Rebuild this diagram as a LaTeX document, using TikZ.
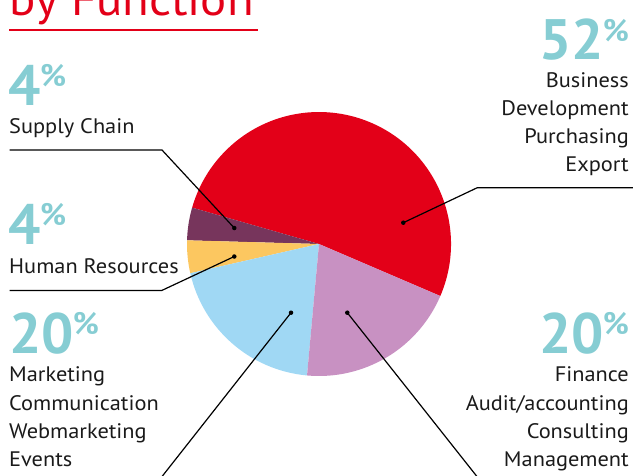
\documentclass[tikz,border=0pt]{standalone}
\usepackage{fontspec}
\setmainfont{PT Sans}
\newfontfamily\lblfont[FakeStretch=1.065]{PT Sans}
\newfontfamily\ttlfont[FakeStretch=1.06]{PT Sans}
\definecolor{cRed}{HTML}{E30018}
\definecolor{cPurple}{HTML}{77355C}
\definecolor{cYellow}{HTML}{FCC760}
\definecolor{cBlue}{HTML}{A0D8F4}
\definecolor{cPink}{HTML}{C891C2}
\definecolor{cTeal}{HTML}{86CDD3}
\definecolor{cText}{HTML}{1A1A1A}
\tikzset{
  bignum/.style={inner sep=0pt, text=cTeal, font=\fontsize{57}{57}\selectfont\bfseries},
  lbl/.style={inner sep=0pt, text=cText, font=\lblfont\fontsize{21}{28}\selectfont},
  dotnode/.style={circle, fill=black, inner sep=0pt, minimum size=4.5pt},
  leader/.style={draw=black, line width=1.2pt},
}
\newcommand{\pct}{\kern-1pt{\fontsize{31}{31}\selectfont\raisebox{18.5pt}{\%}}}
\begin{document}
\begin{tikzpicture}[x=1pt,y=-1pt]
\useasboundingbox (0,0) rectangle (633,475);
\clip (0,0) rectangle (633,475);
% title
\node[anchor=base west, inner sep=0pt, text=cRed, font=\ttlfont\fontsize{46}{46}\selectfont] (title) at (9.5,15) {by Function};
\draw[cRed, line width=2pt] (9.3,30) coordinate (ulA) -- (258.3,30) coordinate (ulB);
% pie
\begin{scope}[shift={(319,244)}, yscale=-1]
  \fill[cRed]    (0,0) -- (-23.2:132) arc[start angle=-23.2, end angle=164.0, radius=132] -- cycle;
  \fill[cPurple] (0,0) -- (164.0:132) arc[start angle=164.0, end angle=178.4, radius=132] -- cycle;
  \fill[cYellow] (0,0) -- (178.4:132) arc[start angle=178.4, end angle=192.8, radius=132] -- cycle;
  \fill[cBlue]   (0,0) -- (192.8:132) arc[start angle=192.8, end angle=264.8, radius=132] -- cycle;
  \fill[cPink]   (0,0) -- (264.8:132) arc[start angle=264.8, end angle=336.8, radius=132] -- cycle;
\end{scope}
% dots
\node[dotnode] (dRed) at (403.3,222.7) {};
\node[dotnode] (dPurple) at (234.3,228) {};
\node[dotnode] (dYellow) at (234.3,256.5) {};
\node[dotnode] (dBlue) at (291,312.7) {};
\node[dotnode] (dPink) at (347.3,312.7) {};
% leader ends
\coordinate (eRed1) at (477.3,187.7);
\coordinate (eRed2) at (640,187.7);
\coordinate (ePur1) at (162,150);
\coordinate (ePur2) at (9.5,150);
\coordinate (eYel1) at (161.7,290.5);
\coordinate (eYel2) at (9.5,290.5);
\coordinate (eBlue) at (158.5,481);
\coordinate (ePink) at (480.5,481);
\draw[leader] (dRed.center) -- (eRed1) -- (eRed2);
\draw[leader] (dPurple.center) -- (ePur1) -- (ePur2);
\draw[leader] (dYellow.center) -- (eYel1) -- (eYel2);
\draw[leader] (dBlue.center) -- (eBlue);
\draw[leader] (dPink.center) -- (ePink);
% left labels
\node[bignum, anchor=base west] (nSupply) at (8.5,105) {4\pct};
\node[lbl, anchor=base west] (tSupply) at (9,133.5) {Supply Chain};
\node[bignum, anchor=base west] (nHR) at (8.5,244) {4\pct};
\node[lbl, anchor=base west] (tHR) at (9,273.5) {Human Resources};
\node[bignum, anchor=base west] (nMkt) at (9,353.3) {20\pct};
\node[lbl, anchor=base west] (tMkt1) at (9,381.7) {Marketing};
\node[lbl, anchor=base west] (tMkt2) at (9,410) {Communication};
\node[lbl, anchor=base west] (tMkt3) at (9,438.3) {Webmarketing};
\node[lbl, anchor=base west] (tMkt4) at (9,466.7) {Events};
% right labels
\node[bignum, anchor=base east] (nBiz) at (629,59.5) {52\pct};
\node[lbl, anchor=base east] (tBiz1) at (629,87.3) {Business};
\node[lbl, anchor=base east] (tBiz2) at (629,115) {Development};
\node[lbl, anchor=base east] (tBiz3) at (629,143.3) {Purchasing};
\node[lbl, anchor=base east] (tBiz4) at (629,171.7) {Export};
\node[bignum, anchor=base east] (nFin) at (629,353.3) {20\pct};
\node[lbl, anchor=base east] (tFin1) at (629,381.7) {Finance};
\node[lbl, anchor=base east] (tFin2) at (629,410) {Audit/accounting};
\node[lbl, anchor=base east] (tFin3) at (629,438.3) {Consulting};
\node[lbl, anchor=base east] (tFin4) at (629,466.7) {Management};
\end{tikzpicture}
\end{document}
